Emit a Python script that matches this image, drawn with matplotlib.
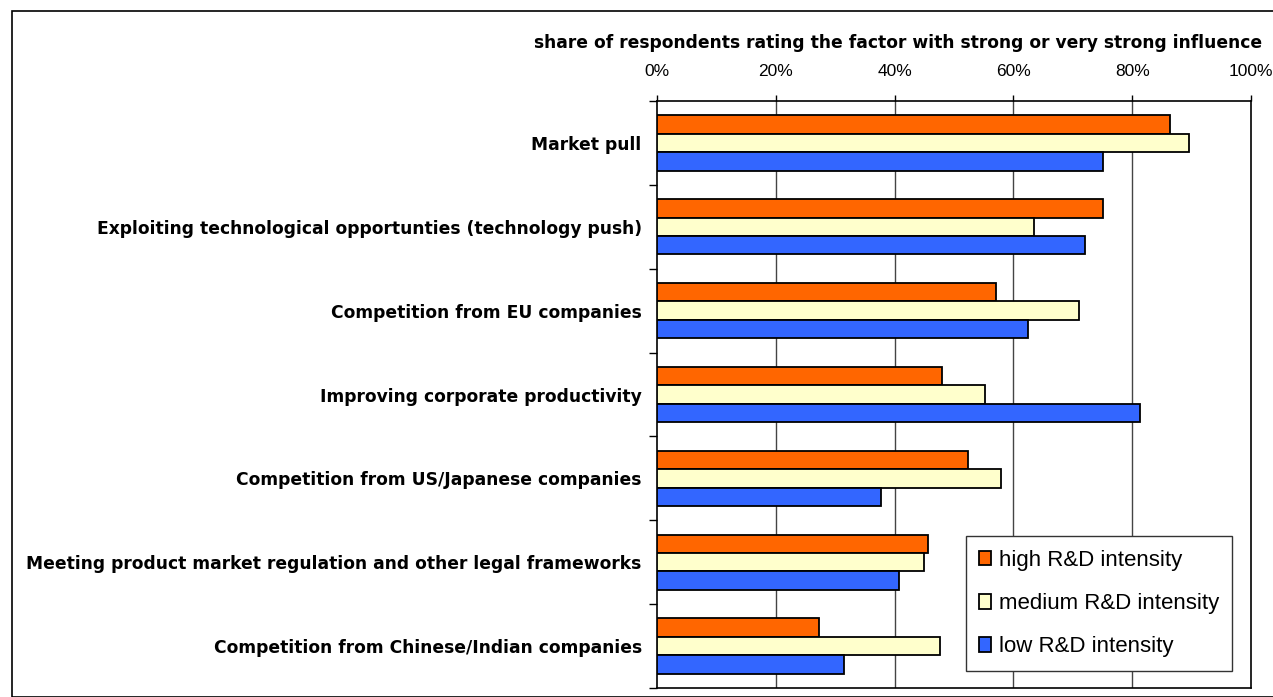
import matplotlib

matplotlib.use("Agg")
import matplotlib.pyplot as plt  # noqa: E402
import numpy as np  # noqa: E402
from matplotlib.patches import Rectangle  # noqa: E402

plt.rcParams["font.family"] = ["Liberation Sans", "DejaVu Sans"]
BOLD = ["DejaVu Sans"]  # wider bold face stands in for the spaced-out Arial Bold

FACTORS = [
    "Market pull",
    "Exploiting technological opportunties (technology push)",
    "Competition from EU companies",
    "Improving corporate productivity",
    "Competition from US/Japanese companies",
    "Meeting product market regulation and other legal frameworks",
    "Competition from Chinese/Indian companies",
]
HIGH = [86.3, 75.1, 57.0, 47.9, 52.4, 45.6, 27.3]
MEDIUM = [89.6, 63.5, 71.1, 55.3, 57.9, 45.0, 47.6]
LOW = [75.0, 72.0, 62.4, 81.3, 37.7, 40.8, 31.4]
SERIES = ["high R&D intensity", "medium R&D intensity", "low R&D intensity"]
COLORS = ["#FF6600", "#FFFFCC", "#3366FF"]
XTICKS = [0, 20, 40, 60, 80, 100]

W, H = 1273, 697
fig = plt.figure(figsize=(W / 100, H / 100), dpi=100)
ax = fig.add_axes([657 / W, 9 / H, 594 / W, 587 / H])

y = np.arange(len(FACTORS))
h = 0.22
for k, (vals, lab, col) in enumerate(zip((HIGH, MEDIUM, LOW), SERIES, COLORS)):
    ax.barh(y + (k - 1) * h, vals, height=h, color=col, edgecolor="black",
            linewidth=1.3, label=lab, zorder=3)

ax.set_xlim(0, 100)
ax.set_ylim(len(FACTORS) - 0.5, -0.5)
ax.xaxis.tick_top()
ax.set_xticks(XTICKS)
ax.set_xticklabels([f"{v}%" for v in XTICKS], fontsize=12.5)
ax.tick_params(axis="x", length=4, width=1, pad=12)
for v in XTICKS[1:-1]:
    ax.axvline(v, color="#444444", lw=1, zorder=1)

ax.set_yticks(y)
ax.set_yticklabels(FACTORS, fontsize=12.3, fontweight="bold", family=BOLD)
ax.tick_params(axis="y", length=0, pad=11)
ax.set_yticks(np.arange(-0.5, len(FACTORS)), minor=True)
ax.tick_params(axis="y", which="minor", length=6, width=1)
for s in ax.spines.values():
    s.set_linewidth(1.2)
    s.set_color("black")

fig.text(1262 / W, 1 - 43 / H,
         "share of respondents rating the factor with strong or very strong influence",
         ha="right", va="center", fontsize=12.3, fontweight="bold", family=BOLD)

leg = ax.legend(loc="center", bbox_to_anchor=(958 / W, 22 / H, 282 / W, 143 / H),
                bbox_transform=fig.transFigure, fontsize=16, frameon=True,
                fancybox=False, framealpha=1, edgecolor="#333333",
                handlelength=0.55, handleheight=0.65, handletextpad=0.35,
                labelspacing=1.0, borderpad=0.6)
leg.get_frame().set_linewidth(1)

fig.patches.append(Rectangle((12 / W, 0), 1.2, 1 - 11 / H, transform=fig.transFigure,
                             fill=False, edgecolor="black", lw=1.2))

fig.savefig("out.png", dpi=100)
